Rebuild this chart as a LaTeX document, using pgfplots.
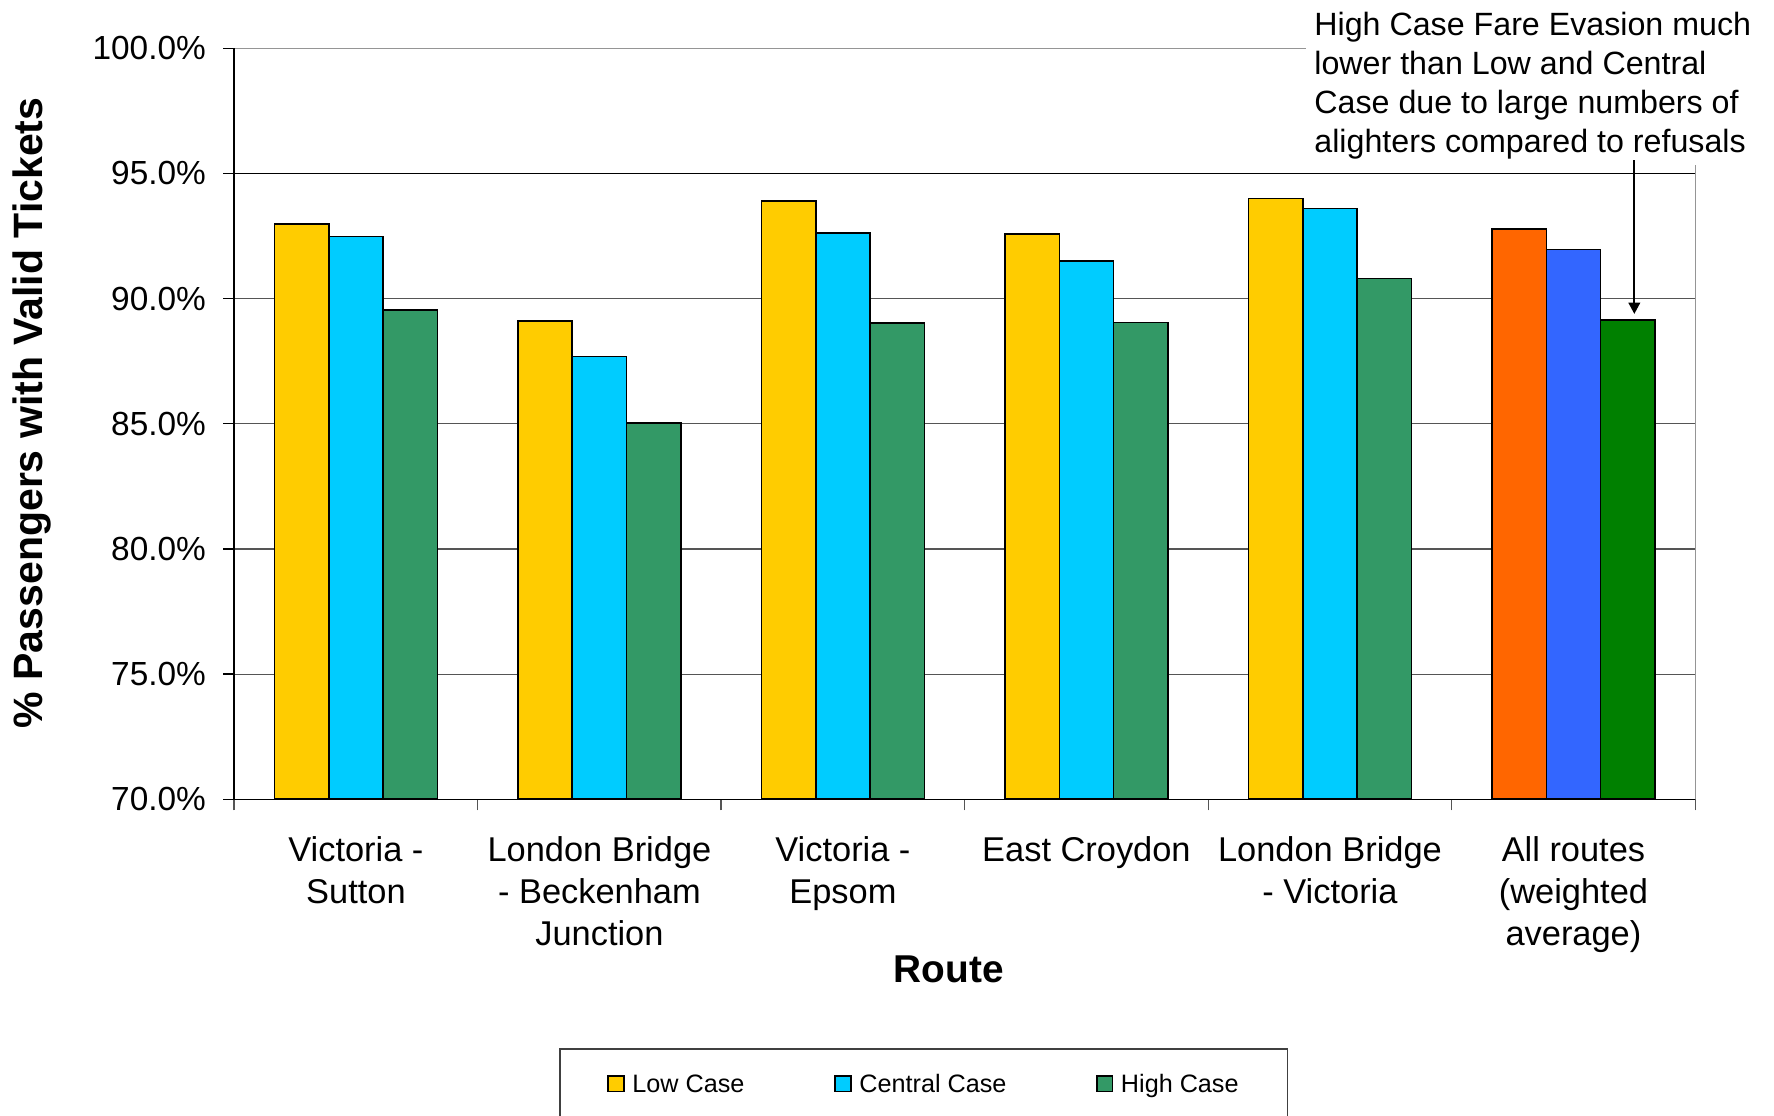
\documentclass[border=0pt]{standalone}
\usepackage{fontspec}
\setmainfont{Liberation Sans}
\usepackage{pgfplots}
\pgfplotsset{compat=1.18}
\usetikzlibrary{arrows.meta}
\definecolor{lowc}{HTML}{FFCC00}
\definecolor{cenc}{HTML}{00CCFF}
\definecolor{highc}{HTML}{339966}
\definecolor{alow}{HTML}{FF6600}
\definecolor{acen}{HTML}{3366FF}
\definecolor{ahigh}{HTML}{008000}
\definecolor{gridc}{HTML}{555555}
\definecolor{framec}{HTML}{959595}
\begin{document}
\begin{tikzpicture}
\begin{axis}[
  scale only axis, width=365.25pt, height=187.75pt,
  xmin=-0.5, xmax=5.5, ymin=70, ymax=100,
  clip=true, clip mode=individual,
  axis line style={draw=none},
  tick align=outside,
  xtick pos=bottom, ytick pos=left,
  major tick length=2.75pt,
  ytick={70,75,...,100},
  ytick style={black, line width=0.35pt},
  xtick style={gridc, line width=0.35pt},
  /pgf/number format/assume math mode=true,
  yticklabel={\pgfmathprintnumber[fixed,fixed zerofill,precision=1]{\tick}\%},
  yticklabel style={font=\fontsize{8.35}{10}\selectfont, inner sep=0pt, xshift=-4.125pt},
  xtick={-0.5,0.5,...,5.5},
  xticklabels={,,,,,,},
  extra x ticks={0,1,2,3,4,5},
  extra x tick labels={{Victoria -\\Sutton},{London Bridge\\- Beckenham\\Junction},{Victoria -\\Epsom},{East Croydon},{London Bridge\\- Victoria},{All routes\\(weighted\\average)}},
  extra x tick style={major tick length=0pt, tick style={draw=none}},
  xticklabel style={font=\fontsize{8.6}{10.5}\selectfont, align=center, inner sep=0pt, anchor=north, yshift=-9.1pt},
  ylabel={\% Passengers with Valid Tickets},
  ylabel style={at={(rel axis cs:-0.1386,0.5144)}, anchor=center, font=\bfseries\fontsize{10.25}{12}\selectfont},
  xlabel={Route},
  xlabel style={at={(rel axis cs:0.489,-0.2268)}, anchor=center, font=\bfseries\fontsize{9.7}{11}\selectfont},
  legend columns=3,
  legend image code/.code={\draw[#1, line width=0.4pt] (0pt,-1.95pt) rectangle (3.9pt,1.95pt);},
  legend style={at={(rel axis cs:0.22252,-0.33156)}, anchor=north west,
    draw=black!75, line width=0.35pt, fill=white,
    inner xsep=11.85pt, inner ysep=6.4pt,
    column sep=0pt,
    /tikz/every odd column/.append style={column sep=1.95pt},
    /tikz/every even column/.append style={column sep=0pt},
    cells={anchor=west},
    nodes={inner sep=0pt, text depth=0pt},
    font=\fontsize{6.3}{7.5}\selectfont},
]
% grid lines and frame
\draw[gridc, line width=0.3pt] (axis cs:-0.5,75) -- (axis cs:5.5,75);
\draw[gridc, line width=0.3pt] (axis cs:-0.5,80) -- (axis cs:5.5,80);
\draw[gridc, line width=0.3pt] (axis cs:-0.5,85) -- (axis cs:5.5,85);
\draw[gridc, line width=0.3pt] (axis cs:-0.5,90) -- (axis cs:5.5,90);
\draw[black, line width=0.3pt] (axis cs:-0.5,95) -- (axis cs:5.5,95);
\draw[framec, line width=0.35pt] (axis cs:-0.5,100) -- (axis cs:5.5,100) -- (axis cs:5.5,70);

\addplot[/tikz/ybar, bar width=13.575pt, bar shift=-13.575pt, fill=lowc, draw=black, line width=0.4pt]
  coordinates {(0,92.98) (1,89.10) (2,93.91) (3,92.59) (4,94.00)};
\addlegendentry{\makebox[50.5pt][l]{Low Case}}
\addplot[/tikz/ybar, bar width=13.575pt, bar shift=0pt, fill=cenc, draw=black, line width=0.4pt]
  coordinates {(0,92.48) (1,87.68) (2,92.63) (3,91.50) (4,93.60)};
\addlegendentry{\makebox[59.15pt][l]{Central Case}}
\addplot[/tikz/ybar, bar width=13.575pt, bar shift=13.575pt, fill=highc, draw=black, line width=0.4pt]
  coordinates {(0,89.54) (1,85.03) (2,89.03) (3,89.05) (4,90.80)};
\addlegendentry{\makebox[29.8pt][l]{High Case}}
% All routes (weighted average)
\addplot[/tikz/ybar, bar width=13.575pt, bar shift=-13.575pt, fill=alow, draw=black, line width=0.4pt, forget plot]
  coordinates {(5,92.79)};
\addplot[/tikz/ybar, bar width=13.575pt, bar shift=0pt, fill=acen, draw=black, line width=0.4pt, forget plot]
  coordinates {(5,91.96)};
\addplot[/tikz/ybar, bar width=13.575pt, bar shift=13.575pt, fill=ahigh, draw=black, line width=0.4pt, forget plot]
  coordinates {(5,89.14)};

% axis lines
\draw[black, line width=0.35pt] (axis cs:-0.5,100) -- (axis cs:-0.5,70) -- (axis cs:5.5,70);
% annotation
\fill[white] (axis cs:3.90,95.35) rectangle (axis cs:6.2,104);
\node[anchor=north west, inner sep=0pt, align=left, font=\fontsize{8.05}{9.7}\selectfont]
  at (axis cs:3.933,101.46) {High Case Fare Evasion much\\lower than Low and Central\\Case due to large numbers of\\alighters compared to refusals};
\draw[-{Triangle[length=2.8pt,width=2.9pt]}, line width=0.45pt] (axis cs:5.25,95.53) -- (axis cs:5.25,89.39);

\coordinate (bbSW) at (rel axis cs:-0.16030,-0.42170);
\coordinate (bbNE) at (rel axis cs:1.05394,1.06431);
\end{axis}
\pgfresetboundingbox
\path[use as bounding box] (bbSW) rectangle (bbNE);
\end{tikzpicture}
\end{document}
